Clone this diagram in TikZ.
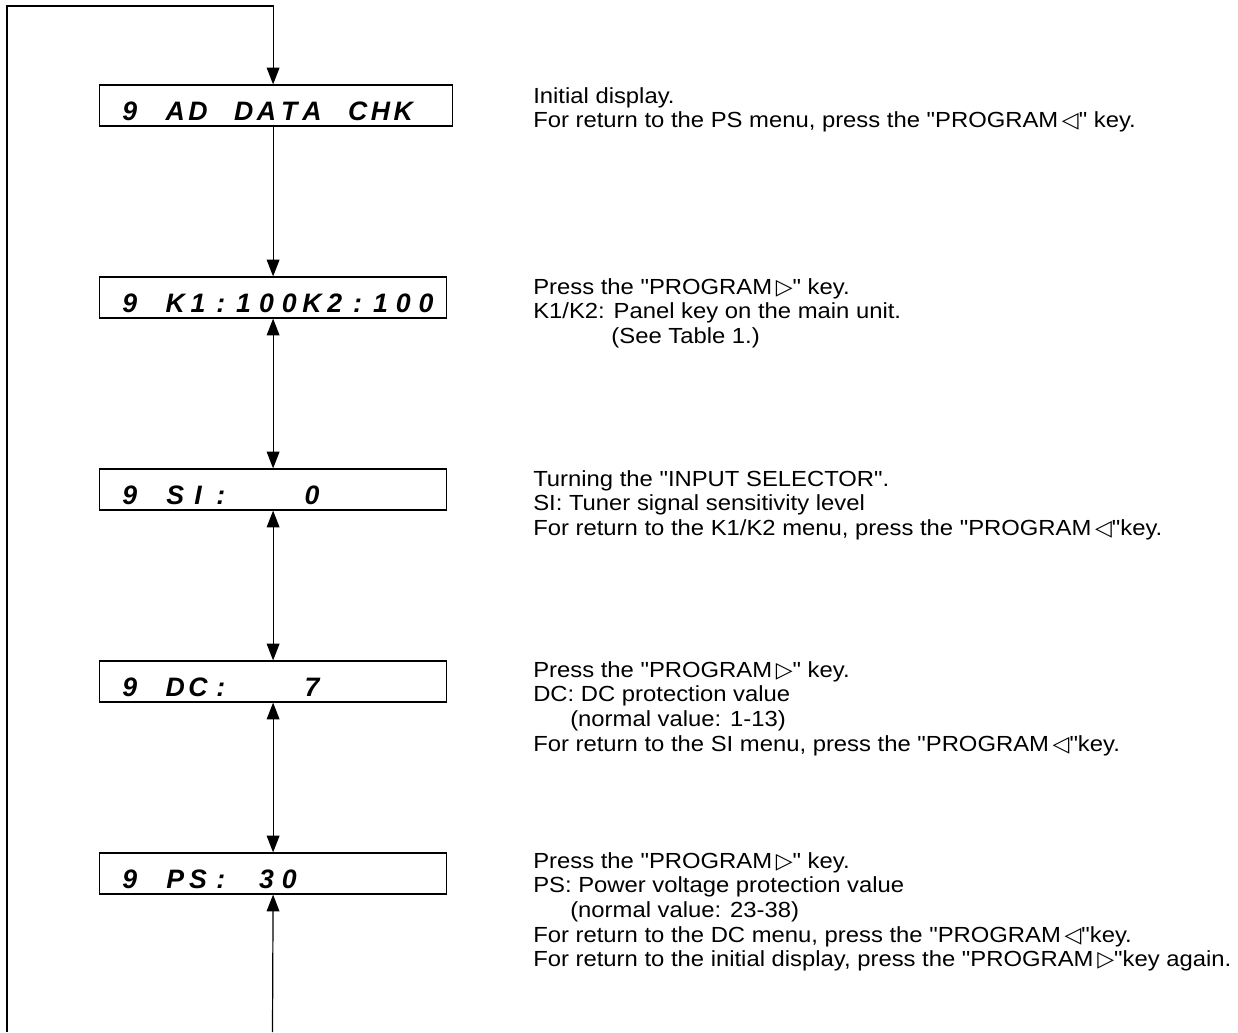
\documentclass[tikz,border=0pt]{standalone}
\usepackage{fontspec}
\setmainfont{Liberation Sans}[FakeStretch=1.09, Ligatures=TeXOff]
\newfontfamily\lcdfont{Liberation Sans}
\newfontfamily\symfont{DejaVu Sans}
\usetikzlibrary{arrows.meta}

\newcommand\keyl{\,{\symfont ◁}}
\newcommand\keyr{\,{\symfont ▷}}
% one display cell per character, * is an empty cell
\newcommand\lcd[1]{\lcdnext#1\relax}
\newcommand\lcdnext[1]{\ifx\relax#1\else\makebox[17.1pt]{\ifx*#1\else#1\fi}\expandafter\lcdnext\fi}

\tikzset{
  lcd/.style={draw, line width=0.9pt, anchor=west, inner xsep=14pt, inner ysep=0pt,
    text height=26.25pt, text depth=4.5pt, align=left,
    font=\lcdfont\fontsize{20}{24}\selectfont\bfseries\itshape},
  note/.style={anchor=north west, inner sep=0pt, align=left,
    font=\fontsize{16.4}{18.5}\selectfont},
  link/.style={line width=0.9pt}
}

\begin{document}
\begin{tikzpicture}[x=0.75pt, y=-0.75pt, >={Triangle[length=12.5pt,width=9.5pt]}]
    \useasboundingbox (0,0) rectangle (1238,1032);

    \node[lcd, text width=236.75pt] (ad) at (99,105.5) {\lcd{9*AD*DATA*CHK}};
    \node[lcd, text width=232.25pt] (keys) at (99,297.5) {\lcd{9*K1:100K2:100}};
    \node[lcd, text width=232.25pt] (si) at (99,489.5) {\lcd{9*SI:***0}};
    \node[lcd, text width=232.25pt] (dc) at (99,681.5) {\lcd{9*DC:***7}};
    \node[lcd, text width=232.25pt] (ps) at (99,873.5) {\lcd{9*PS:*30}};

    \node[note] (adnote) at (533,87) {Initial display.\\
        For return to the PS menu, press the "PROGRAM\keyl" key.};
    \node[note] (keysnote) at (533,278) {Press the "PROGRAM\keyr" key.\\
        K1/K2: Panel key on the main unit.\\
        \phantom{K1/K2:\ }(See Table 1.)};
    \node[note] (sinote) at (533,470) {Turning the "INPUT SELECTOR".\\
        SI: Tuner signal sensitivity level\\
        For return to the K1/K2 menu, press the "PROGRAM\keyl"key.};
    \node[note] (dcnote) at (533,661) {Press the "PROGRAM\keyr" key.\\
        DC: DC protection value\\
        \hspace*{27.75pt}(normal value: 1-13)\\
        For return to the SI menu, press the "PROGRAM\keyl"key.};
    \node[note] (psnote) at (533,852) {Press the "PROGRAM\keyr" key.\\
        PS: Power voltage protection value\\
        \hspace*{27.75pt}(normal value: 23-38)\\
        For return to the DC menu, press the "PROGRAM\keyl"key.\\
        For return to the initial display, press the "PROGRAM\keyr"key again.};

    \coordinate (loopbot) at (7,1032);
    \coordinate (looptop) at (7,6);
    \coordinate (psend) at (272.5,1032);

    \draw[link,->] (loopbot) -- (looptop) -| (keys.north |- ad.north);
    \draw[link,->] (ad.south -| keys.north) -- (keys.north);
    \draw[link,<->] (keys.south) -- (si.north);
    \draw[link,<->] (si.south) -- (dc.north);
    \draw[link,<->] (dc.south) -- (ps.north);
    \draw[link,<-] (ps.south) -- (psend);
\end{tikzpicture}
\end{document}
